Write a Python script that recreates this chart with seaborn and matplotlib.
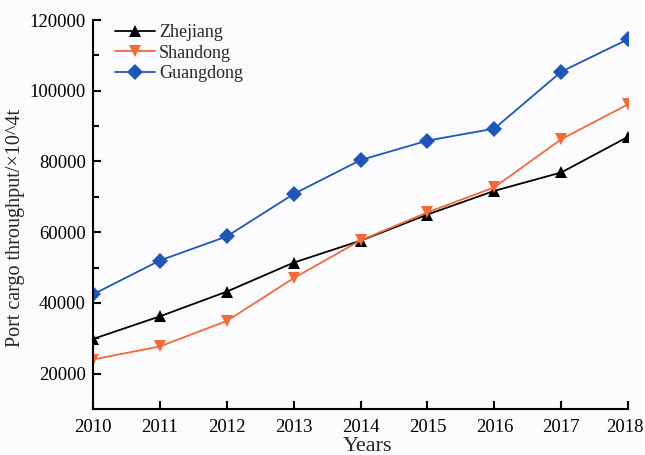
import matplotlib
matplotlib.use("Agg")
import matplotlib.pyplot as plt
import matplotlib.transforms as mtransforms
import seaborn as sns
import pandas as pd
from matplotlib.ticker import MultipleLocator

years = [2010, 2011, 2012, 2013, 2014, 2015, 2016, 2017, 2018]
zhejiang = [29800, 36200, 43200, 51400, 57600, 65000, 71700, 76900, 87000]
shandong = [24000, 27700, 34900, 47000, 57700, 65600, 72700, 86300, 96200]
guangdong = [42400, 52000, 58800, 70800, 80400, 85900, 89300, 105400, 114600]
provinces = ["Zhejiang", "Shandong", "Guangdong"]

df = pd.DataFrame({
    "Years": years * 3,
    "value": zhejiang + shandong + guangdong,
    "Province": [p for p in provinces for _ in years],
})

sns.set_style("ticks")
plt.rcParams["font.family"] = ["Liberation Serif", "DejaVu Serif"]

fig = plt.figure(figsize=(6.45, 4.55), dpi=100)
fig.patch.set_facecolor("#fbfbfd")
ax = fig.add_axes([0.144, 0.101, 0.830, 0.855])
ax.set_facecolor("#fbfbfd")

palette = {"Zhejiang": "#000000", "Shandong": "#f26a3a", "Guangdong": "#1f56b8"}
markers = {"Zhejiang": "^", "Shandong": "v", "Guangdong": "D"}
sns.lineplot(data=df, x="Years", y="value", hue="Province", style="Province",
             palette=palette, markers=markers, dashes=False, linewidth=1.3,
             markersize=8, markeredgewidth=0, ax=ax)

ax.set_xlim(2010, 2018)
ax.set_ylim(10000, 120000)
ax.set_xticks(years)
ax.yaxis.set_major_locator(MultipleLocator(20000))
ax.yaxis.set_minor_locator(MultipleLocator(10000))
ax.tick_params(axis="both", which="both", direction="in", width=1.5,
               colors="black")
ax.tick_params(axis="both", which="major", length=6, labelsize=13.5)
ax.tick_params(axis="x", which="major", pad=7)
ax.tick_params(axis="y", which="major", pad=5)
ax.tick_params(axis="y", which="minor", length=4)
for s in ["left", "bottom"]:
    ax.spines[s].set_linewidth(1.5)
    ax.spines[s].set_color("black")
sns.despine(ax=ax)

# keep the last year label inside the figure edge
last = ax.get_xticklabels()[-1]
last.set_transform(last.get_transform() +
                   mtransforms.ScaledTranslation(-3 / 100, 0, fig.dpi_scale_trans))

ax.set_xlabel("Years", fontsize=16)
ax.xaxis.set_label_coords(0.513, -0.071)
ax.set_ylabel("Port cargo throughput/×10^4t", fontsize=14.5, va="center")
ax.yaxis.set_label_coords(-0.144, 0.465)

leg = ax.legend(loc="upper left", frameon=False, fontsize=13,
                bbox_to_anchor=(0.041, 0.99), borderaxespad=0, borderpad=0,
                handlelength=2.25, handletextpad=0.2, labelspacing=0.2)

fig.savefig("out.png", dpi=100, facecolor=fig.get_facecolor())
